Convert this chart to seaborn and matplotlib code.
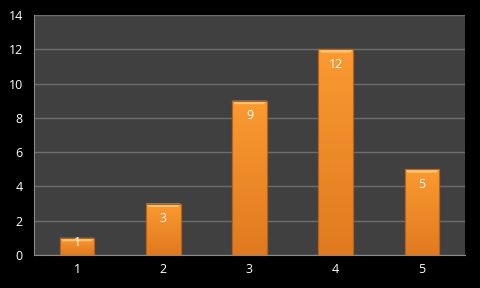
import matplotlib
matplotlib.use("Agg")
import matplotlib.pyplot as plt
import seaborn as sns
import pandas as pd
import numpy as np
from matplotlib.ticker import FixedLocator
from matplotlib.patches import Polygon
from matplotlib.colors import LinearSegmentedColormap

categories = ["1", "2", "3", "4", "5"]
values = [1, 3, 9, 12, 5]

df = pd.DataFrame({"cat": categories, "val": values})

sns.set_style("dark")
plt.rcParams['font.family'] = ['Open Sans', 'DejaVu Sans']

fig = plt.figure(figsize=(4.8, 2.88), dpi=100, facecolor="black")
ax = fig.add_axes([34/480, 33/288, 431/480, 240/288])
ax.set_facecolor("#404040")

sns.barplot(data=df, x="cat", y="val", ax=ax, color="#F7922A", width=0.4,
            saturation=1, edgecolor="#C86A1C", linewidth=0.8, zorder=3)

ax.set_ylim(0, 14)
ax.set_xlim(-0.5, 4.5)
ax.set_yticks(range(0, 15, 2))
ax.grid(axis="y", color="#6E6E6E", linewidth=1.0, zorder=0)
ax.grid(axis="x", visible=False)
ax.set_xlabel("")
ax.set_ylabel("")

px_per_unit = 240 / 14.0
cmap = LinearSegmentedColormap.from_list("o", ["#E07A20", "#FA9A30"])
for p, v in zip(ax.patches, values):
    x0, y0 = p.get_x(), p.get_y()
    w, h = p.get_width(), p.get_height()
    grad = np.linspace(1, 0, 64).reshape(-1, 1)
    im = ax.imshow(grad, extent=[x0, x0 + w, y0, y0 + h], cmap=cmap, aspect="auto",
                   origin="upper", zorder=3.5)
    im.set_clip_path(p)
    dy = 0.2
    dx = w * 0.08
    top = Polygon([[x0, y0 + h], [x0 + w, y0 + h], [x0 + w - dx, y0 + h - dy],
                   [x0 + dx, y0 + h - dy]], closed=True, facecolor="#FFC46A",
                  edgecolor="none", zorder=4)
    ax.add_patch(top)
    edge = plt.Rectangle((x0, y0), w, h, fill=False, edgecolor="#B8601A",
                         linewidth=0.8, zorder=4.5)
    ax.add_patch(edge)
    # data label inside end
    hpx = h * px_per_unit
    off = min(15, hpx - 13)
    ax.annotate(str(v), (x0 + w / 2, y0 + h), xytext=(0, -off * 0.72),
                textcoords="offset points", ha="center", va="center",
                color="white", fontsize=9, zorder=6)

ax.set_xlim(-0.5, 4.5)
ax.set_ylim(0, 14)

ax.xaxis.set_minor_locator(FixedLocator([-0.5, 0.5, 1.5, 2.5, 3.5, 4.5]))
ax.tick_params(axis="x", which="major", length=0, colors="white", labelsize=9, pad=6)
ax.tick_params(axis="x", which="minor", length=4, color="#8A8A8A", width=0.8, direction="out")
ax.tick_params(axis="y", which="major", length=4, color="#8A8A8A", width=0.8,
               labelcolor="white", labelsize=9, direction="out", pad=4)

for s in ["top", "right"]:
    ax.spines[s].set_visible(False)
for s in ["left", "bottom"]:
    ax.spines[s].set_visible(True)
    ax.spines[s].set_color("#8A8A8A")
    ax.spines[s].set_linewidth(0.8)

fig.savefig("out.png", dpi=100, facecolor="black")
